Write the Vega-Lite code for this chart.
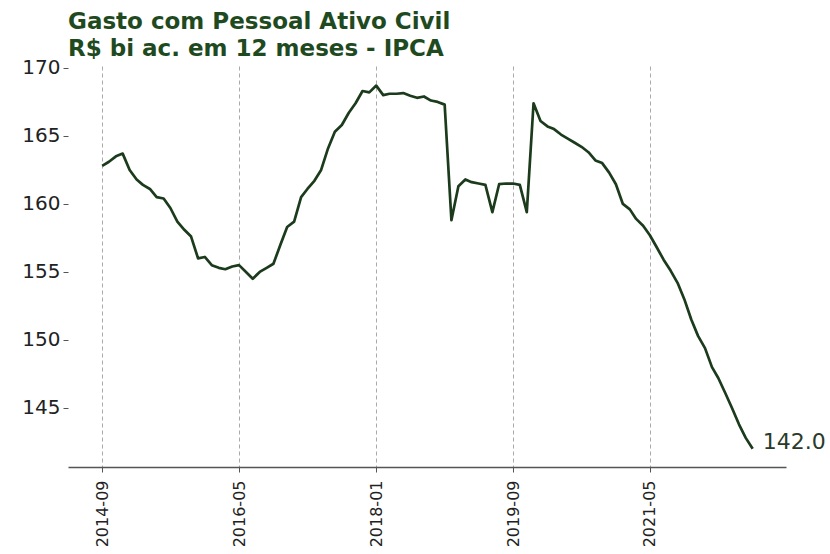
{
  "$schema": "https://vega.github.io/schema/vega-lite/v6.json",
  "autosize": "none",
  "width": 718,
  "height": 401,
  "padding": {"left": 68, "top": 66, "right": 44, "bottom": 87},
  "background": "white",
  "title": {
    "text": ["Gasto com Pessoal Ativo Civil", "R$ bi ac. em 12 meses - IPCA"],
    "anchor": "start",
    "frame": "group",
    "font": "DejaVu Sans",
    "fontWeight": "bold",
    "fontSize": 23,
    "lineHeight": 27,
    "color": "#1f4a1f",
    "offset": -3
  },
  "config": {
    "view": {"stroke": null},
    "axis": {"labelFont": "DejaVu Sans", "labelColor": "#222222", "tickColor": "#555555", "title": null}
  },
  "data": {"values": [
    {"date": "2014-09-01", "v": 162.8},
    {"date": "2014-10-01", "v": 163.1},
    {"date": "2014-11-01", "v": 163.5},
    {"date": "2014-12-01", "v": 163.7},
    {"date": "2015-01-01", "v": 162.5},
    {"date": "2015-02-01", "v": 161.8},
    {"date": "2015-03-01", "v": 161.4},
    {"date": "2015-04-01", "v": 161.1},
    {"date": "2015-05-01", "v": 160.5},
    {"date": "2015-06-01", "v": 160.4},
    {"date": "2015-07-01", "v": 159.7},
    {"date": "2015-08-01", "v": 158.7},
    {"date": "2015-09-01", "v": 158.1},
    {"date": "2015-10-01", "v": 157.6},
    {"date": "2015-11-01", "v": 156.0},
    {"date": "2015-12-01", "v": 156.1},
    {"date": "2016-01-01", "v": 155.5},
    {"date": "2016-02-01", "v": 155.3},
    {"date": "2016-03-01", "v": 155.2},
    {"date": "2016-04-01", "v": 155.4},
    {"date": "2016-05-01", "v": 155.5},
    {"date": "2016-06-01", "v": 155.0},
    {"date": "2016-07-01", "v": 154.5},
    {"date": "2016-08-01", "v": 155.0},
    {"date": "2016-09-01", "v": 155.3},
    {"date": "2016-10-01", "v": 155.6},
    {"date": "2016-11-01", "v": 157.0},
    {"date": "2016-12-01", "v": 158.3},
    {"date": "2017-01-01", "v": 158.7},
    {"date": "2017-02-01", "v": 160.5},
    {"date": "2017-03-01", "v": 161.1},
    {"date": "2017-04-01", "v": 161.7},
    {"date": "2017-05-01", "v": 162.5},
    {"date": "2017-06-01", "v": 164.1},
    {"date": "2017-07-01", "v": 165.3},
    {"date": "2017-08-01", "v": 165.8},
    {"date": "2017-09-01", "v": 166.7},
    {"date": "2017-10-01", "v": 167.4},
    {"date": "2017-11-01", "v": 168.3},
    {"date": "2017-12-01", "v": 168.2},
    {"date": "2018-01-01", "v": 168.7},
    {"date": "2018-02-01", "v": 168.0},
    {"date": "2018-03-01", "v": 168.1},
    {"date": "2018-04-01", "v": 168.1},
    {"date": "2018-05-01", "v": 168.15},
    {"date": "2018-06-01", "v": 167.95},
    {"date": "2018-07-01", "v": 167.8},
    {"date": "2018-08-01", "v": 167.9},
    {"date": "2018-09-01", "v": 167.6},
    {"date": "2018-10-01", "v": 167.5},
    {"date": "2018-11-01", "v": 167.3},
    {"date": "2018-12-01", "v": 158.8},
    {"date": "2019-01-01", "v": 161.3},
    {"date": "2019-02-01", "v": 161.8},
    {"date": "2019-03-01", "v": 161.6},
    {"date": "2019-04-01", "v": 161.5},
    {"date": "2019-05-01", "v": 161.4},
    {"date": "2019-06-01", "v": 159.4},
    {"date": "2019-07-01", "v": 161.45},
    {"date": "2019-08-01", "v": 161.5},
    {"date": "2019-09-01", "v": 161.5},
    {"date": "2019-10-01", "v": 161.4},
    {"date": "2019-11-01", "v": 159.4},
    {"date": "2019-12-01", "v": 167.4},
    {"date": "2020-01-01", "v": 166.1},
    {"date": "2020-02-01", "v": 165.7},
    {"date": "2020-03-01", "v": 165.5},
    {"date": "2020-04-01", "v": 165.1},
    {"date": "2020-05-01", "v": 164.8},
    {"date": "2020-06-01", "v": 164.5},
    {"date": "2020-07-01", "v": 164.2},
    {"date": "2020-08-01", "v": 163.8},
    {"date": "2020-09-01", "v": 163.2},
    {"date": "2020-10-01", "v": 163.0},
    {"date": "2020-11-01", "v": 162.3},
    {"date": "2020-12-01", "v": 161.45},
    {"date": "2021-01-01", "v": 160.0},
    {"date": "2021-02-01", "v": 159.6},
    {"date": "2021-03-01", "v": 158.9},
    {"date": "2021-04-01", "v": 158.4},
    {"date": "2021-05-01", "v": 157.7},
    {"date": "2021-06-01", "v": 156.8},
    {"date": "2021-07-01", "v": 155.9},
    {"date": "2021-08-01", "v": 155.1},
    {"date": "2021-09-01", "v": 154.2},
    {"date": "2021-10-01", "v": 153.0},
    {"date": "2021-11-01", "v": 151.5},
    {"date": "2021-12-01", "v": 150.3},
    {"date": "2022-01-01", "v": 149.4},
    {"date": "2022-02-01", "v": 148.0},
    {"date": "2022-03-01", "v": 147.2},
    {"date": "2022-04-01", "v": 146.1},
    {"date": "2022-05-01", "v": 145.0},
    {"date": "2022-06-01", "v": 143.8},
    {"date": "2022-07-01", "v": 142.8},
    {"date": "2022-08-01", "v": 142.0}
  ]},
  "encoding": {
    "x": {
      "field": "date",
      "type": "temporal",
      "scale": {
        "type": "utc",
        "domain": [
          {"year": 2014, "month": 4, "date": 2, "utc": true},
          {"year": 2022, "month": 12, "date": 27, "utc": true}
        ]
      },
      "axis": {
        "values": [
          {"year": 2014, "month": 9, "date": 1, "utc": true},
          {"year": 2016, "month": 5, "date": 1, "utc": true},
          {"year": 2018, "month": 1, "date": 1, "utc": true},
          {"year": 2019, "month": 9, "date": 1, "utc": true},
          {"year": 2021, "month": 5, "date": 1, "utc": true}
        ],
        "labelExpr": "utcFormat(datum.value, '%Y-%m')",
        "labelAngle": 270,
        "labelFontSize": 16,
        "labelPadding": 8,
        "tickSize": 5,
        "domainColor": "#555555",
        "domainWidth": 1.5,
        "grid": true,
        "gridColor": "#aaaaaa",
        "gridDash": [4, 3],
        "gridWidth": 1
      }
    },
    "y": {
      "field": "v",
      "type": "quantitative",
      "scale": {"domain": [140.66, 170.14], "nice": false, "zero": false},
      "axis": {
        "values": [145, 150, 155, 160, 165, 170],
        "labelFontSize": 20,
        "domain": false,
        "grid": false,
        "tickSize": 5,
        "labelPadding": 3
      }
    }
  },
  "layer": [
    {
      "mark": {"type": "line", "color": "#1c3b1c", "strokeWidth": 2.7, "strokeJoin": "round"}
    },
    {
      "transform": [{"filter": "datum.v == 142"}],
      "mark": {"type": "text", "align": "left", "baseline": "middle", "dx": 10, "dy": -7, "font": "DejaVu Sans", "fontSize": 22, "color": "#2a3a2a"},
      "encoding": {"text": {"field": "v", "type": "quantitative", "format": ".1f"}}
    }
  ]
}
